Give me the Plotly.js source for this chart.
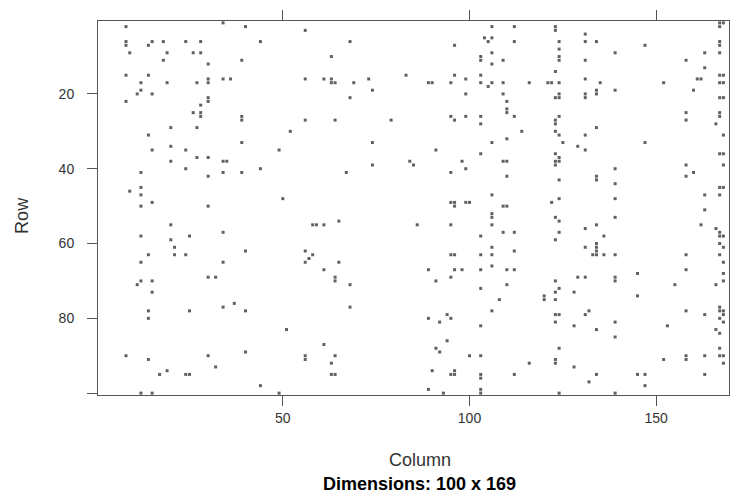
<!DOCTYPE html>
<html>
<head>
<meta charset="utf-8">
<script src="https://cdn.plot.ly/plotly-3.0.1.min.js"></script>
<style>html,body{margin:0;padding:0;background:#fff;}#chart{width:730px;height:496px;}</style>
</head>
<body>
<div id="chart"></div>
<script>
// Non-zero cells of the 100 x 169 sparse matrix, as [row, column]
const cellsA = [[2,8],[1,34],[2,40],[6,8],[7,8],[6,15],[7,14],[6,18],[6,24],[6,28],[9,9],[9,19],[9,26],[9,28],[11,18],[11,39],[12,30],[15,8],[15,14],[16,30],[17,30],[16,34],[16,36],[17,12],[17,19],[17,27],[19,12],[20,11],[20,15],[21,30],[22,30],[22,8],[23,28],[25,26],[25,28],[26,28],[26,39],[27,39],[29,20],[29,27],[31,14],[33,39],[34,20],[35,15],[35,24],[38,20],[37,27],[37,30],[38,34],[38,35],[40,24],[41,12],[41,34],[41,39],[42,30],[46,9],[45,12],[47,12],[49,15],[50,12],[50,30]];
const cellsB = [[55,20],[58,12],[59,20],[58,25],[57,34],[61,21],[63,14],[63,21],[63,24],[62,40],[65,12],[65,34],[69,30],[69,32],[70,12],[71,11],[70,15],[73,15],[78,14],[80,14],[78,25],[77,34],[76,37],[78,40],[90,8],[91,14],[90,30],[89,40],[93,32],[95,17],[94,19],[95,24],[95,25],[100,12],[100,15]];
const cellsC = [[3,56],[6,44],[6,68],[10,63],[16,56],[16,61],[16,63],[17,63],[17,64],[17,69],[16,73],[15,83],[19,74],[21,68],[27,56],[27,64],[27,79],[30,52],[33,74],[35,49],[40,44],[41,67],[39,74],[38,84],[39,85],[48,50]];
const cellsD = [[54,65],[55,58],[55,59],[55,61],[62,56],[63,58],[64,57],[65,56],[65,65],[67,61],[69,64],[70,64],[71,68],[77,68],[83,51],[87,61],[90,56],[91,56],[90,64],[92,63],[95,63],[95,64],[98,44],[100,49]];
const cellsE = [[2,106],[2,112],[2,123],[3,123],[5,104],[6,105],[5,106],[6,112],[6,124],[7,96],[8,124],[9,106],[10,103],[11,103],[10,124],[11,124],[11,109],[12,106],[14,123],[15,96],[15,103],[16,99],[17,89],[17,90],[17,95],[17,103],[18,105],[17,106],[17,109],[17,116],[17,121],[17,122],[17,124],[20,99],[20,109],[20,124],[21,123],[21,124],[22,110],[24,110],[25,110],[26,95],[27,96],[26,99],[26,103],[26,112],[28,103],[26,124],[27,123],[28,123],[30,114],[30,123],[31,124],[33,106],[32,110],[33,125],[35,91],[36,103],[38,98],[38,109],[38,110],[36,123],[37,124],[38,123],[38,124],[39,123],[41,95],[40,99],[42,110],[43,124],[47,106],[49,95],[49,96],[50,96],[49,99],[49,100],[50,109],[50,110],[48,124],[49,122]];
const cellsF = [[52,106],[53,106],[53,123],[54,124],[55,86],[55,95],[55,106],[58,103],[57,109],[57,112],[57,124],[59,123],[61,106],[63,95],[63,96],[63,103],[63,106],[62,112],[66,106],[67,89],[67,96],[67,98],[67,103],[67,110],[67,112],[70,91],[69,95],[72,103],[71,110],[75,108],[74,120],[75,120],[70,123],[72,124],[73,123],[75,123],[78,106],[80,89],[81,92],[79,94],[80,95],[82,103],[79,123],[79,124],[81,123],[86,94],[88,91],[89,92],[90,100],[90,103],[88,124],[91,123],[92,123],[92,116],[94,90],[94,96],[95,95],[95,96],[95,103],[96,103],[95,112],[99,89],[100,93],[99,103],[100,103],[100,124]];
const cellsG = [[1,167],[1,168],[2,167],[4,131],[6,131],[6,134],[7,147],[6,167],[7,167],[9,139],[9,163],[9,167],[11,131],[11,158],[13,163],[16,131],[17,135],[17,152],[16,161],[16,162],[15,167],[15,168],[17,167],[17,168],[20,131],[21,131],[19,134],[20,134],[19,139],[19,160],[21,167],[21,168],[25,158],[27,158],[25,167],[26,167],[28,166],[29,134],[31,131],[31,168],[33,147],[34,129],[35,131],[36,167],[36,168],[39,158],[39,168],[41,160],[42,158],[42,134],[43,134],[40,139],[44,139],[45,167],[45,168],[47,163],[47,167],[48,139]];
const cellsH = [[51,163],[53,139],[56,131],[55,134],[55,162],[58,136],[56,166],[57,167],[58,167],[58,168],[61,131],[60,134],[61,134],[62,134],[63,134],[63,133],[63,136],[63,139],[63,158],[60,167],[61,168],[63,167],[65,168],[67,158],[69,129],[69,131],[69,139],[70,139],[68,145],[71,155],[71,166],[68,168],[70,168],[73,128],[74,145],[79,131],[78,132],[78,158],[79,163],[77,167],[78,167],[78,168],[79,168],[80,167],[81,168],[82,128],[83,134],[81,139],[85,139],[82,153],[83,166],[84,167],[88,167],[91,152],[90,158],[91,158],[90,163],[90,167],[90,168],[92,168],[93,128],[95,134],[97,132],[95,145],[95,147],[98,147],[95,163],[100,139]];

const nRows = 100, nCols = 169;
const xTickVals = [50, 100, 150];
const xTickText = ['50', '100', '150'];
const yTickVals = [20, 40, 60, 80, 100];
const yTickText = ['20', '40', '60', '80', ''];

const cells = [].concat(cellsA, cellsB, cellsC, cellsD, cellsE, cellsF, cellsG, cellsH);
const trace = {
  type: 'scatter', mode: 'markers',
  x: cells.map(c => c[1]),
  y: cells.map(c => c[0]),
  marker: {symbol: 'square', size: 3, color: '#606060', line: {width: 0}},
  hoverinfo: 'x+y', showlegend: false, cliponaxis: false
};
const fam = 'Liberation Sans, Arial, sans-serif';
const axisCommon = {
  showgrid: false, zeroline: false, showline: true, linecolor: '#555', linewidth: 1,
  mirror: 'ticks', ticks: 'outside', ticklen: 10, tickwidth: 1, tickcolor: '#555',
  tickfont: {family: fam, size: 14, color: '#333'}
};
const layout = {
  width: 730, height: 496,
  margin: {l: 98, r: 1, t: 21, b: 101, pad: 0},
  paper_bgcolor: '#fff', plot_bgcolor: '#fff',
  xaxis: Object.assign({}, axisCommon, {range: [0.5, nCols + 0.5], tickmode: 'array', tickvals: xTickVals, ticktext: xTickText}),
  yaxis: Object.assign({}, axisCommon, {range: [nRows + 0.5, 0.5], tickmode: 'array', tickvals: yTickVals, ticktext: yTickText, ticklabelstandoff: 10}),
  annotations: [
    {text: 'Column', xref: 'paper', yref: 'paper', x: 0.51, y: -0.174, showarrow: false,
     font: {family: fam, size: 18, color: '#333'}, xanchor: 'center', yanchor: 'middle'},
    {text: '<b>Dimensions: 100 x 169</b>', xref: 'paper', yref: 'paper', x: 0.51, y: -0.238, showarrow: false,
     font: {family: fam, size: 18, color: '#000'}, xanchor: 'center', yanchor: 'middle'},
    {text: 'Row', xref: 'paper', yref: 'paper', x: -0.1204, y: 0.479, showarrow: false, textangle: -90,
     font: {family: fam, size: 18, color: '#333'}, xanchor: 'center', yanchor: 'middle'}
  ]
};
Plotly.newPlot('chart', [trace], layout, {staticPlot: true, displayModeBar: false});
</script>
</body>
</html>
